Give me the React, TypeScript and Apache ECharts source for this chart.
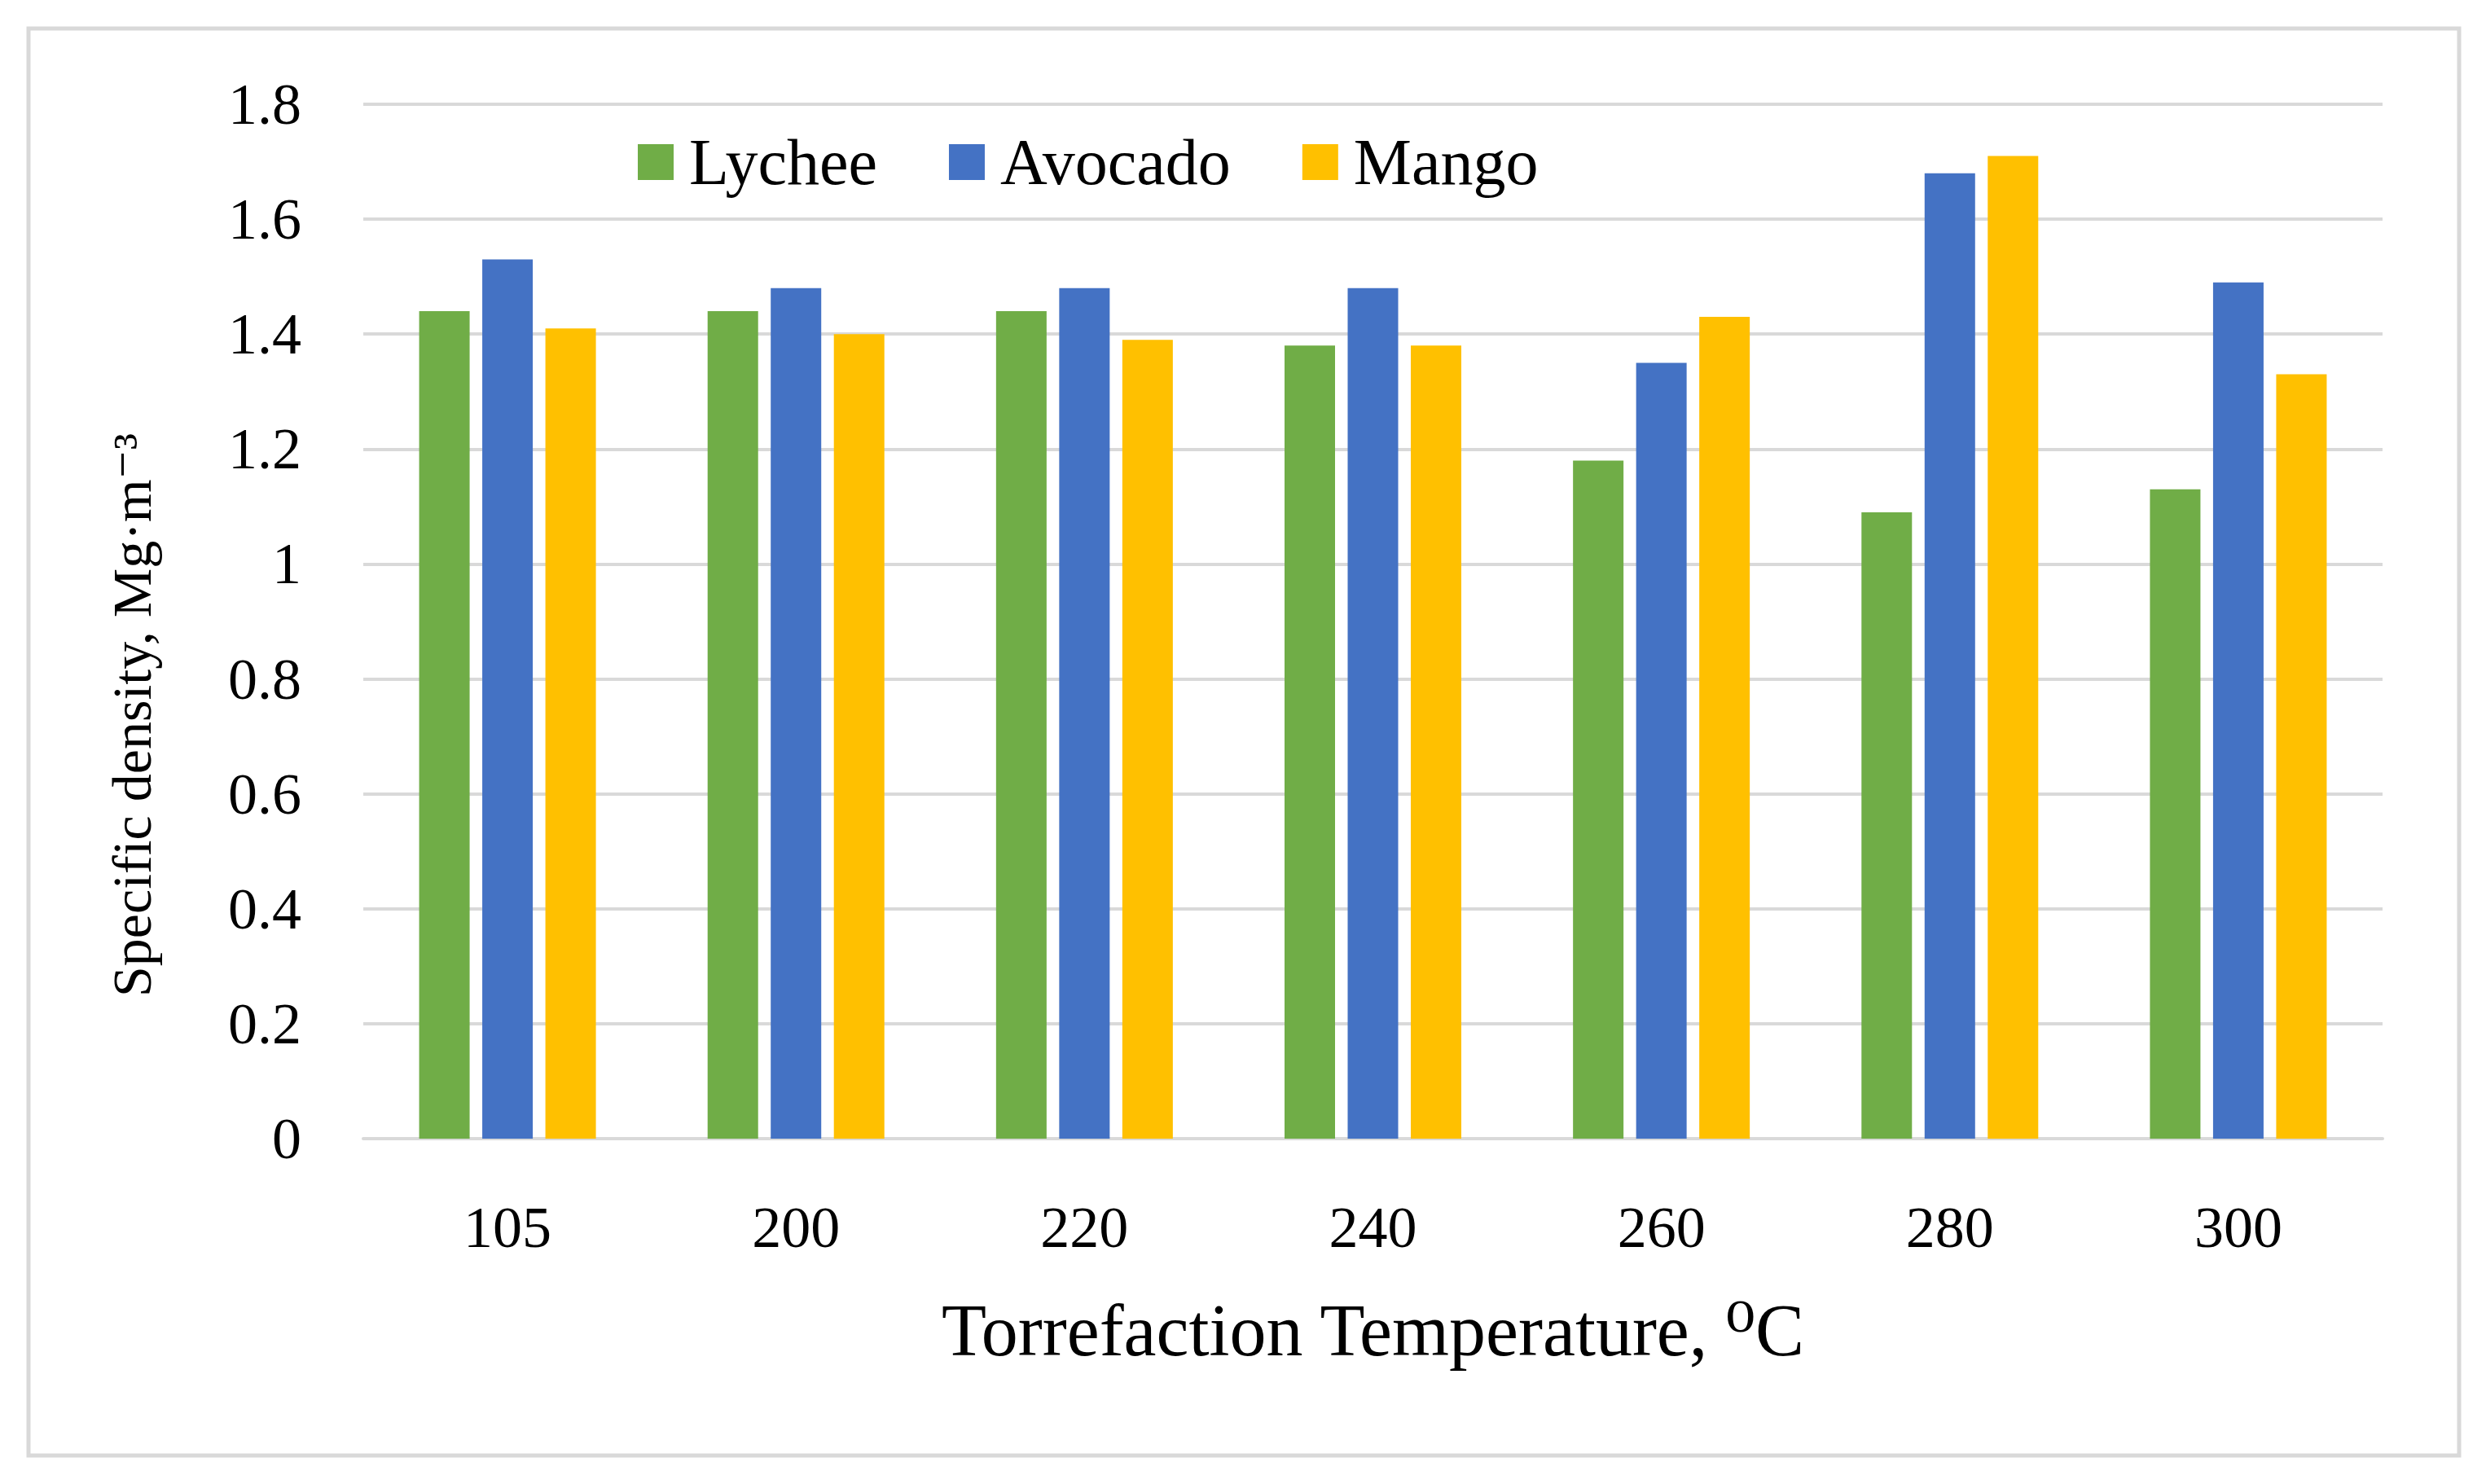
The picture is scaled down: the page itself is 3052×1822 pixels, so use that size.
import React, { useEffect, useRef } from "react";
import * as echarts from "echarts";

const categories = ["105", "200", "220", "240", "260", "280", "300"];
const lychee = [1.44, 1.44, 1.44, 1.38, 1.18, 1.09, 1.13];
const avocado = [1.53, 1.48, 1.48, 1.48, 1.35, 1.68, 1.49];
const mango = [1.41, 1.4, 1.39, 1.38, 1.43, 1.71, 1.33];
const seriesNames = ["Lychee", "Avocado", "Mango"];
const colors = ["#70ad47", "#4472c4", "#ffc000"];
const xTitle = "Torrefaction Temperature, ⁰C";
const yTitle = "Specific density, Mg·m⁻³";

const FONT = "'Liberation Serif', 'DejaVu Serif', serif";

export default function App() {
  const ref = useRef<HTMLDivElement>(null);
  useEffect(() => {
    if (!ref.current) return;
    const chart = echarts.init(ref.current, undefined, { renderer: "svg" });
    const data = [lychee, avocado, mango];
    chart.setOption({
      animation: false,
      backgroundColor: "#ffffff",
      textStyle: { fontFamily: FONT },
      graphic: [
        {
          type: "rect",
          shape: { x: 35, y: 35, width: 2984, height: 1752 },
          style: { fill: "none", stroke: "#d9d9d9", lineWidth: 5 },
          silent: true,
        },
        {
          type: "text",
          x: 162,
          y: 878,
          rotation: Math.PI / 2,
          style: {
            text: yTitle,
            fontFamily: FONT,
            fontSize: 68,
            fill: "#000000",
            align: "center",
            verticalAlign: "middle",
          },
        },
      ],
      legend: {
        left: 778,
        top: 154,
        itemWidth: 44,
        itemHeight: 44,
        itemGap: 88,
        icon: "rect",
        textStyle: { fontFamily: FONT, fontSize: 80, color: "#000000", padding: [0, 0, 0, 14] },
        data: seriesNames,
      },
      grid: { left: 446, right: 127, top: 128, bottom: 424, containLabel: false },
      xAxis: {
        type: "category",
        data: categories,
        axisTick: { show: false },
        axisLine: { lineStyle: { color: "#d9d9d9", width: 4 } },
        axisLabel: { fontFamily: FONT, fontSize: 72, color: "#000000", margin: 73 },
        name: xTitle,
        nameLocation: "middle",
        nameGap: 190,
        nameTextStyle: { fontFamily: FONT, fontSize: 90, color: "#000000" },
      },
      yAxis: {
        type: "value",
        min: 0,
        max: 1.8,
        interval: 0.2,
        axisLine: { show: false },
        axisTick: { show: false },
        splitLine: { lineStyle: { color: "#d9d9d9", width: 4 } },
        axisLabel: { fontFamily: FONT, fontSize: 72, color: "#000000", margin: 76 },
      },
      series: seriesNames.map((n, i) => ({
        name: n,
        type: "bar",
        data: data[i],
        barWidth: 62,
        barGap: "25%",
        itemStyle: { color: colors[i] },
      })),
    });
    return () => chart.dispose();
  }, []);
  return (
    <div
      ref={ref}
      style={{ position: "fixed", left: 0, top: 0, width: 3052, height: 1822 }}
    />
  );
}
